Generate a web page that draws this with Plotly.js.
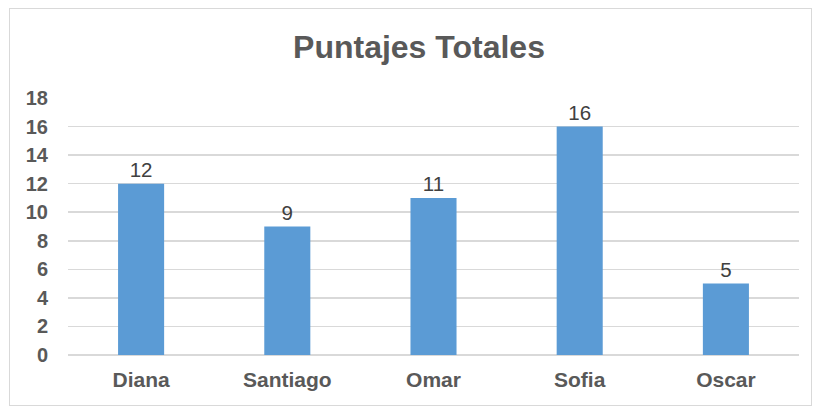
<!DOCTYPE html>
<html>
<head>
<meta charset="utf-8">
<script src="https://cdn.plot.ly/plotly-3.0.1.min.js"></script>
<style>
  html, body { margin: 0; padding: 0; background: #fff; }
  #frame { position: absolute; left: 9px; top: 8px; width: 803px; height: 398px; border: 1px solid #d9d9d9; box-sizing: border-box; }
  #chart { position: absolute; left: 0; top: 0; width: 815px; height: 409px; }
</style>
</head>
<body>
<div id="frame"></div>
<div id="chart"></div>
<script>
const categories = ["Diana", "Santiago", "Omar", "Sofia", "Oscar"];
const scores = [12, 9, 11, 16, 5];
const yTicks = [0, 2, 4, 6, 8, 10, 12, 14, 16, 18];

const trace = {
  type: "bar",
  x: categories,
  y: scores,
  marker: { color: "#5B9BD5" },
  text: scores.map(String),
  textposition: "outside",
  textfont: { family: "Liberation Sans, Arial, sans-serif", size: 20.5, color: "#404040" },
  cliponaxis: false,
  hoverinfo: "none"
};

const layout = {
  width: 815,
  height: 409,
  paper_bgcolor: "rgba(0,0,0,0)",
  plot_bgcolor: "rgba(0,0,0,0)",
  margin: { l: 68, r: 16, t: 98, b: 54 },
  bargap: 0.685,
  showlegend: false,
  title: {
    text: "<b>Puntajes Totales</b>",
    font: { family: "Liberation Sans, Arial, sans-serif", size: 32, color: "#595959" },
    x: 419 / 815,
    xref: "container",
    xanchor: "center",
    y: 1 - 47 / 409,
    yref: "container",
    yanchor: "middle"
  },
  xaxis: {
    type: "category",
    showgrid: false,
    zeroline: false,
    showline: false,
    ticks: "",
    ticklabelstandoff: 10,
    tickfont: { family: "Liberation Sans, Arial, sans-serif", size: 21, color: "#595959", weight: "bold" }
  },
  yaxis: {
    range: [0, 18],
    tickvals: yTicks,
    ticktext: yTicks.map(v => "<b>" + v + "</b>"),
    showgrid: true,
    gridcolor: "#d9d9d9",
    gridwidth: 1.5,
    zeroline: true,
    zerolinecolor: "#d9d9d9",
    zerolinewidth: 1.5,
    showline: false,
    ticks: "",
    ticklabelstandoff: 19,
    tickfont: { family: "Liberation Sans, Arial, sans-serif", size: 20, color: "#595959" }
  }
};

Plotly.newPlot("chart", [trace], layout, { displayModeBar: false, staticPlot: true });
</script>
</body>
</html>
